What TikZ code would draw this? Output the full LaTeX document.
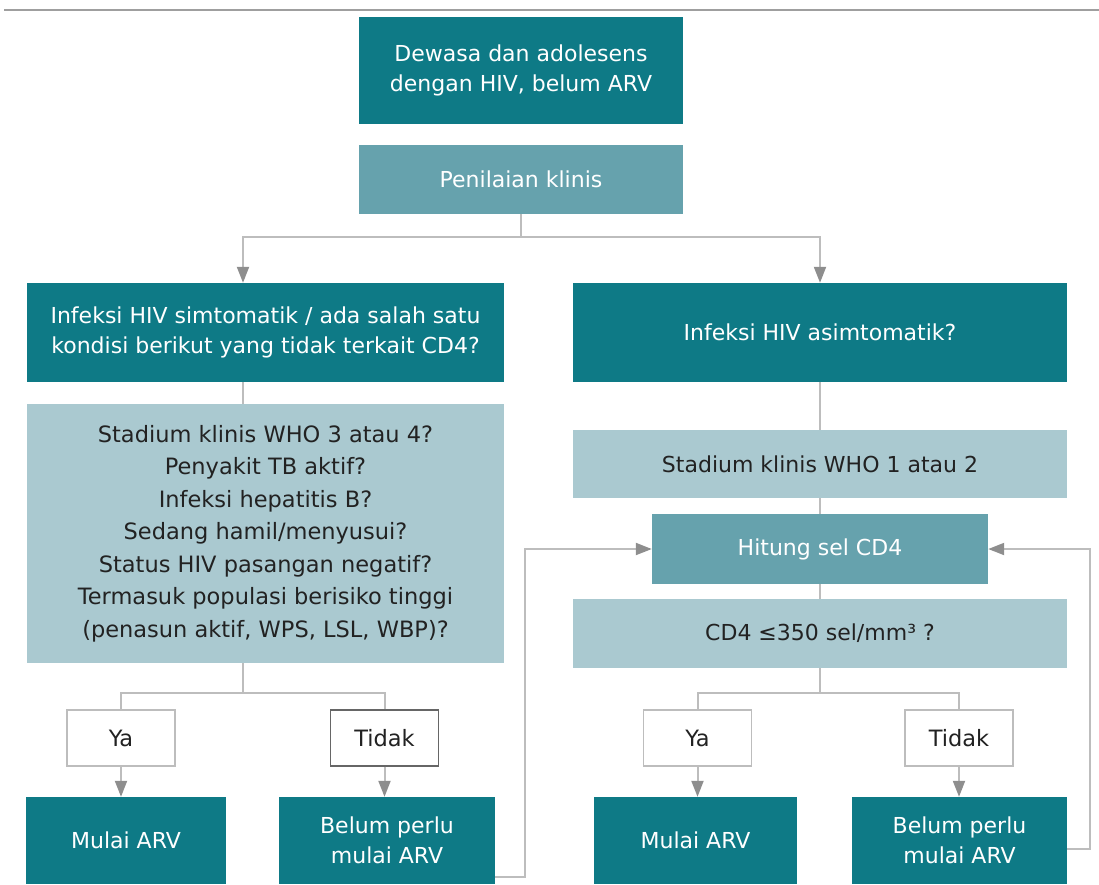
\documentclass[tikz,border=0pt]{standalone}
\usepackage{fontspec}
\setmainfont{DejaVu Sans}
\usetikzlibrary{arrows.meta}

\definecolor{tealdark}{HTML}{0E7A86}
\definecolor{tealmid}{HTML}{66A2AD}
\definecolor{teallight}{HTML}{AAC9D0}
\definecolor{linegray}{HTML}{BDBDBD}
\definecolor{tipgray}{HTML}{8E8E8E}
\definecolor{textdark}{HTML}{222222}

\begin{document}
\begin{tikzpicture}[x=1pt,y=-1pt,
  base/.style={rectangle, inner sep=0pt, align=center,
    font=\fontsize{22}{30}\selectfont},
  darkbox/.style={base, fill=tealdark, text=white},
  midbox/.style={base, fill=tealmid, text=white},
  lightbox/.style={base, fill=teallight, text=textdark},
  answer/.style={base, fill=white, draw=linegray, line width=1.4pt, text=textdark,
    minimum width=108pt, minimum height=56pt, font=\fontsize{22.5}{30}\selectfont},
  conn/.style={draw=linegray, line width=2pt},
  arrowconn/.style={conn, -{Triangle[length=16pt,width=12pt,color=tipgray]}},
]
\useasboundingbox (0,0) rectangle (1099,884);

% rule across the top
\draw[draw=gray!75, line width=2pt] (4,10) -- (1099,10);

% entry and assessment
\node[darkbox, minimum width=324pt, minimum height=107pt] (start) at (521,70.5)
  {Dewasa dan adolesens\\dengan HIV, belum ARV};
\node[midbox, minimum width=324pt, minimum height=69pt] (assess) at (521,179.5)
  {Penilaian klinis};

% the two branches
\node[darkbox, minimum width=477pt, minimum height=99pt] (symp) at (265.5,332.5)
  {Infeksi HIV simtomatik / ada salah satu\\kondisi berikut yang tidak terkait CD4?};
\node[darkbox, minimum width=494pt, minimum height=99pt] (asymp) at (820,332.5)
  {Infeksi HIV asimtomatik?};

% left branch: conditions independent of CD4
\node[lightbox, minimum width=477pt, minimum height=259pt,
  font=\fontsize{22.5}{32.5}\selectfont] (cond) at (265.5,533.5)
  {Stadium klinis WHO 3 atau 4?\\Penyakit TB aktif?\\Infeksi hepatitis B?\\
   Sedang hamil/menyusui?\\Status HIV pasangan negatif?\\
   Termasuk populasi berisiko tinggi\\(penasun aktif, WPS, LSL, WBP)?};

% right branch: CD4 route
\node[lightbox, minimum width=494pt, minimum height=68pt] (stage) at (820,464)
  {Stadium klinis WHO 1 atau 2};
\node[midbox, minimum width=336pt, minimum height=70pt] (count) at (820,549)
  {Hitung sel CD4};
\node[lightbox, minimum width=494pt, minimum height=69pt] (thresh) at (820,633.5)
  {CD4 ≤350 sel/mm³ ?};

% answers
\node[answer] (yaL) at (121,738) {Ya};
\node[answer, draw=gray!80!black] (tidakL) at (384.5,738) {Tidak};
\node[answer] (yaR) at (697.5,738) {Ya};
\node[answer] (tidakR) at (959,738) {Tidak};

% outcomes
\node[darkbox, minimum width=200pt, minimum height=87pt] (startL) at (126,840.5)
  {Mulai ARV};
\node[darkbox, minimum width=216pt, minimum height=87pt] (deferL) at (387,840.5)
  {Belum perlu\\mulai ARV};
\node[darkbox, minimum width=203pt, minimum height=87pt] (startR) at (695.5,840.5)
  {Mulai ARV};
\node[darkbox, minimum width=215pt, minimum height=87pt] (deferR) at (959.5,840.5)
  {Belum perlu\\mulai ARV};

% routing points
\coordinate (colL) at (243,0);
\coordinate (colR) at (820,0);
\coordinate (splitT) at (521,237);
\coordinate (forkL) at (243,693);
\coordinate (forkR) at (820,693);
\coordinate (loopL) at (525,877);
\coordinate (loopR) at (1090,849);

% split after assessment
\draw[conn] (assess.south) -- (splitT);
\draw[arrowconn] (splitT) -| (colL |- symp.north);
\draw[arrowconn] (splitT) -| (colR |- asymp.north);

% left column
\draw[conn] (colL |- symp.south) -- (colL |- cond.north);
\draw[conn] (colL |- cond.south) -- (forkL);
\draw[conn] (yaL.north) |- (forkL) -| (tidakL.north);
\draw[arrowconn] (yaL.south) -- (yaL.south |- startL.north);
\draw[arrowconn] (tidakL.south) -- (tidakL.south |- deferL.north);

% right column
\draw[conn] (asymp.south) -- (stage.north);
\draw[conn] (stage.south) -- (count.north);
\draw[conn] (count.south) -- (thresh.north);
\draw[conn] (thresh.south) -- (forkR);
\draw[conn] (yaR.north) |- (forkR) -| (tidakR.north);
\draw[arrowconn] (yaR.south) -- (yaR.south |- startR.north);
\draw[arrowconn] (tidakR.south) -- (tidakR.south |- deferR.north);

% deferred cases return to CD4 counting
\draw[arrowconn] (deferL.east |- loopL) -- (loopL) |- (count.west);
\draw[arrowconn] (deferR.east |- loopR) -- (loopR) |- (count.east);
\end{tikzpicture}
\end{document}
